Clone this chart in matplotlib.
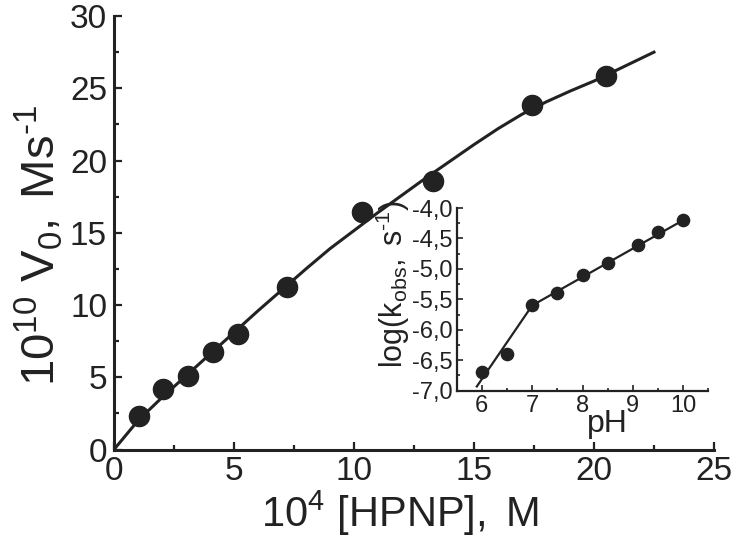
import matplotlib
matplotlib.use("Agg")
import matplotlib.pyplot as plt
from matplotlib.ticker import MultipleLocator, FuncFormatter

plt.rcParams['font.family'] = ['Liberation Sans', 'DejaVu Sans']
plt.rcParams['mathtext.fontset'] = 'custom'
plt.rcParams['mathtext.rm'] = 'Liberation Sans'
plt.rcParams['mathtext.it'] = 'Liberation Sans:italic'

# main data: 10^4 [HPNP], M  vs 10^10 V0
hpnp = [1.04, 2.04, 3.10, 4.12, 5.17, 7.21, 10.33, 13.29, 17.42, 20.5]
v0 = [2.32, 4.19, 5.09, 6.75, 7.99, 11.25, 16.44, 18.58, 23.84, 25.85]

# fitted curve
fit_x = [0, 1, 2, 3, 4, 5, 6, 7, 8, 9, 10, 11, 12, 13, 14, 15, 16, 17, 18, 19, 20, 21, 22, 22.5]
fit_y = [0, 2.0, 3.6, 5.1, 6.6, 8.1, 9.6, 11.05, 12.5, 13.9, 15.15, 16.4, 17.6, 18.8,
         19.95, 21.1, 22.2, 23.2, 24.05, 24.8, 25.5, 26.3, 27.1, 27.5]

# inset data
ph = [6.0, 6.5, 7.0, 7.5, 8.0, 8.5, 9.1, 9.5, 10.0]
logk = [-6.70, -6.40, -5.60, -5.40, -5.10, -4.90, -4.60, -4.40, -4.20]
ph_line = [5.9, 7.0, 10.0]
logk_line = [-6.93, -5.60, -4.20]

color = '#222222'

fig = plt.figure(figsize=(7.34, 5.41), dpi=100)
ax = fig.add_axes([0.1553, 0.1691, 0.8174, 0.8013])
ax.plot(fit_x, fit_y, color=color, lw=2.2, zorder=2)
ax.plot(hpnp, v0, 'o', color=color, ms=14.5, zorder=3)
ax.set_xlim(0, 25)
ax.set_ylim(0, 30)
for s in ['top', 'right']:
    ax.spines[s].set_visible(False)
for s in ['left', 'bottom']:
    ax.spines[s].set_linewidth(2.2)
    ax.spines[s].set_color(color)
ax.xaxis.set_major_locator(MultipleLocator(5))
ax.xaxis.set_minor_locator(MultipleLocator(2.5))
ax.yaxis.set_major_locator(MultipleLocator(5))
ax.yaxis.set_minor_locator(MultipleLocator(2.5))
ax.tick_params(which='major', direction='in', length=6, width=1.6, colors=color,
               labelsize=24, pad=5)
ax.tick_params(which='minor', direction='in', length=3.5, width=1.6, colors=color)
ax.set_xlabel(r'$\mathregular{10^4\ [HPNP],\ M}$', fontsize=30, color=color)
ax.set_ylabel(r'$\mathregular{10^{10}\ V_0,\;Ms^{\text{-}1}}$', fontsize=34, color=color)
ax.xaxis.set_label_coords(0.477, -0.148)
ax.yaxis.set_label_coords(-0.125, 0.47)
ax.xaxis.label.set_va('center')
ax.yaxis.label.set_va('center')

# inset
ins = fig.add_axes([0.6222, 0.2778, 0.3428, 0.3377])
ins.patch.set_alpha(0)
ins.plot(ph_line, logk_line, color=color, lw=1.6, zorder=2)
ins.plot(ph, logk, 'o', color=color, ms=8.8, zorder=3)
ins.set_xlim(5.5, 10.5)
ins.set_ylim(-7.0, -4.0)
for s in ['top', 'right']:
    ins.spines[s].set_visible(False)
for s in ['left', 'bottom']:
    ins.spines[s].set_linewidth(1.6)
    ins.spines[s].set_color(color)
ins.xaxis.set_major_locator(MultipleLocator(1))
ins.xaxis.set_minor_locator(MultipleLocator(0.5))
ins.yaxis.set_major_locator(MultipleLocator(0.5))
ins.yaxis.set_minor_locator(MultipleLocator(0.25))
ins.yaxis.set_major_formatter(FuncFormatter(lambda v, p: f'{v:.1f}'.replace('.', ',').replace('\u2212', '-')))
ins.xaxis.set_major_formatter(FuncFormatter(lambda v, p: f'{v:.0f}'))
ins.tick_params(which='major', direction='in', length=4, width=1.2, colors=color,
                labelsize=17, pad=3)
ins.tick_params(which='minor', direction='in', length=2.5, width=1.2, colors=color)
ins.set_xlabel('pH', fontsize=23, color=color)
ins.set_ylabel(r'$\mathregular{log(k_{obs},\;s^{\text{-}1})}$', fontsize=22, color=color)
ins.xaxis.set_label_coords(0.60, -0.18)
ins.yaxis.set_label_coords(-0.255, 0.585)
ins.xaxis.label.set_va('center')
ins.yaxis.label.set_va('center')

fig.savefig('out.png', dpi=100)
